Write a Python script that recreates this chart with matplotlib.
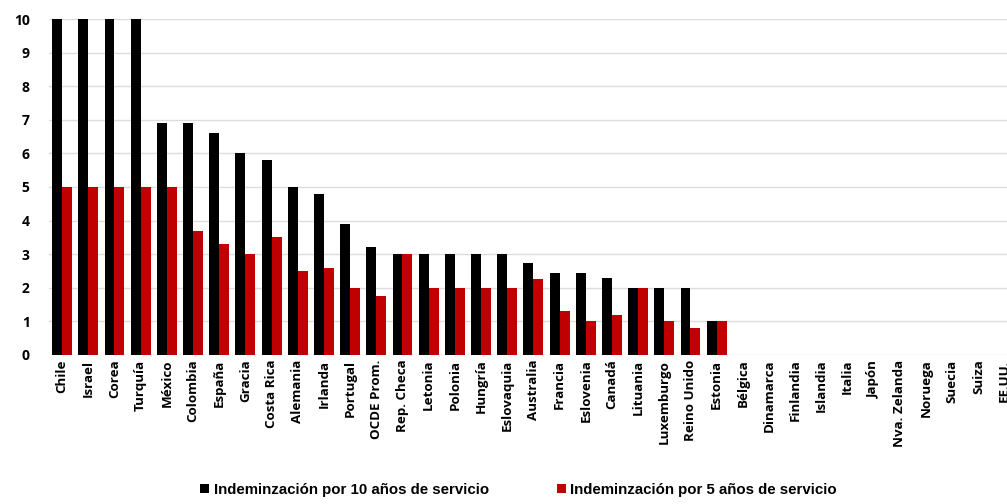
import numpy as np
import matplotlib.pyplot as plt

paises = ['Chile', 'Israel', 'Corea', 'Turquía', 'México', 'Colombia', 'España',
          'Gracia', 'Costa Rica', 'Alemania', 'Irlanda', 'Portugal', 'OCDE Prom.',
          'Rep. Checa', 'Letonia', 'Polonia', 'Hungría', 'Eslovaquia', 'Australia',
          'Francia', 'Eslovenia', 'Canadá', 'Lituania', 'Luxemburgo', 'Reino Unido',
          'Estonia', 'Bélgica', 'Dinamarca', 'Finlandia', 'Islandia', 'Italia',
          'Japón', 'Nva. Zelanda', 'Noruega', 'Suecia', 'Suiza', 'EE.UU.']

indem_10 = [10, 10, 10, 10, 6.9, 6.9, 6.6, 6.0, 5.8, 5.0, 4.8, 3.9, 3.2,
            3.0, 3.0, 3.0, 3.0, 3.0, 2.75, 2.45, 2.45, 2.3, 2.0, 2.0, 2.0,
            1.0, 0, 0, 0, 0, 0, 0, 0, 0, 0, 0, 0]
indem_5 = [5, 5, 5, 5, 5, 3.7, 3.3, 3.0, 3.5, 2.5, 2.6, 2.0, 1.75,
           3.0, 2.0, 2.0, 2.0, 2.0, 2.25, 1.3, 1.0, 1.2, 2.0, 1.0, 0.8,
           1.0, 0, 0, 0, 0, 0, 0, 0, 0, 0, 0, 0]

fig = plt.figure(figsize=(10.07, 5.04), dpi=100)
ax = fig.add_axes([0.0487, 0.296, 0.962, 0.666])

x = np.arange(len(paises))
w = 0.38
ax.bar(x - w / 2, indem_10, w, color='black', label='Indeminzación por 10 años de servicio', zorder=3)
ax.bar(x + w / 2, indem_5, w, color='#c00000', label='Indeminzación por 5 años de servicio', zorder=3)

ax.set_xlim(-0.5, len(paises) - 0.5)
ax.set_ylim(0, 10)
ax.set_yticks(range(0, 11))
ax.yaxis.grid(True, color='#dcdcdc', linewidth=1, zorder=0)
for s in ax.spines.values():
    s.set_visible(False)
ax.tick_params(length=0)
ax.tick_params(axis='y', pad=14)
ax.set_xticks(x)
ax.set_xticklabels(paises, rotation=90, fontsize=9.6, fontweight='bold', family='Open Sans')
for t in ax.get_yticklabels():
    t.set_fontweight('bold')
    t.set_fontsize(10)
    t.set_family('Open Sans')

fig.legend(loc='center', bbox_to_anchor=(0.515, 0.028), ncol=2, frameon=False,
           handlelength=0.6, handleheight=0.6, handletextpad=0.3, columnspacing=4.5,
           prop={'family': 'Liberation Sans', 'weight': 'bold', 'size': 10.8})

fig.savefig('out.png', dpi=100)
